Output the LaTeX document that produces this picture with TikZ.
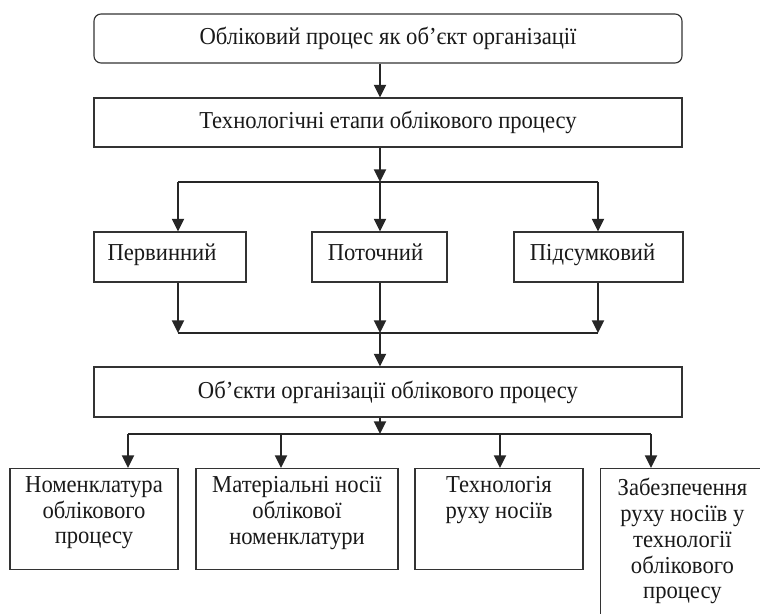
\documentclass[tikz,border=0pt]{standalone}
\usepackage{fontspec}
\setmainfont[FakeStretch=0.93]{Liberation Serif}
\usetikzlibrary{arrows.meta,positioning}

\begin{document}
\begin{tikzpicture}[
  font=\fontsize{17.3}{18.4}\selectfont, >={Triangle[length=9pt,width=8.5pt]},
  arr/.style={->, draw=black!85, line width=1.6pt},
  bus/.style={draw=black!85, line width=0.8pt},
  box/.style={draw=black!80, line width=0.8pt, minimum height=#1,
              inner sep=2pt, align=center, text=black!90},
  box/.default=1.25cm,
  stg/.style={box, text height=1.55ex, text depth=0.35ex},
  txt/.style={align=center, text=black!90, inner sep=0pt},
]

%% Frame of the picture
\useasboundingbox (0,0) rectangle (19,15.325);
\clip (0,0) rectangle (19,15.325);

%% ====================================================
%% Top: process and its stages
%% ====================================================
\node[box=1.225cm, rounded corners=5pt, minimum width=14.7cm] (proc) at (9.7,14.3625)
  {Обліковий процес як об’єкт організації};
\node[box=1.225cm, minimum width=14.7cm] (etapy) at (9.7,12.2625)
  {Технологічні етапи облікового процесу};

\coordinate (split) at (9.5,10.775);
\draw[arr] (proc.south -| split) -- (etapy.north -| split);
\draw[arr] (etapy.south -| split) -- (split);

%% Stage boxes
\node[stg, minimum width=3.8cm]   (perv) at (4.25,8.9)    {Первинний\hspace*{0.4cm}};
\node[stg, minimum width=3.375cm] (poto) at (9.4875,8.9)  {Поточний\hspace*{0.2cm}};
\node[stg, minimum width=4.225cm] (pids) at (14.9625,8.9) {Підсумковий\hspace*{0.3cm}};

%% Fan out / fan in
\coordinate (s1) at (4.45,10.775);
\coordinate (s3) at (14.95,10.775);
\coordinate (m1) at (4.45,7.0);
\coordinate (m2) at (9.5,7.0);
\coordinate (m3) at (14.95,7.0);
\draw[bus] (s1) -- (s3);
\draw[bus] (m1) -- (m3);
\draw[arr] (s1) -- (s1 |- perv.north);
\draw[arr] (split) -- (split |- poto.north);
\draw[arr] (s3) -- (s3 |- pids.north);
\draw[arr] (perv.south -| m1) -- (m1);
\draw[arr] (poto.south -| m2) -- (m2);
\draw[arr] (pids.south -| m3) -- (m3);

%% ====================================================
%% Bottom: objects of organisation
%% ====================================================
\node[box, minimum width=14.7cm] (objs) at (9.7,5.525)
  {Об’єкти організації облікового процесу};
\draw[arr] (m2) -- (m2 |- objs.north);

\coordinate (t)  at (9.5,4.475);
\coordinate (b1) at (3.2,4.475);
\coordinate (b2) at (7.025,4.475);
\coordinate (b3) at (12.5,4.475);
\coordinate (b4) at (16.275,4.475);
\draw[arr] (objs.south -| t) -- (t);
\draw[bus] (b1) -- (b4);

%% Leaf boxes (text sits at the top)
\node[box=2.525cm, minimum width=4.2cm,  anchor=north] (nom) at (2.35,3.625)   {};
\node[box=2.525cm, minimum width=5.05cm, anchor=north] (mat) at (7.425,3.625)  {};
\node[box=2.525cm, minimum width=4.2cm,  anchor=north] (teh) at (12.475,3.625) {};
\node[box=4cm, minimum width=5cm, anchor=north west]   (zab) at (15.0,3.625)   {};

\node[txt, below=0.2cm of nom.north] (nomT) {Номенклатура\\облікового\\процесу};
\node[txt, below=0.2cm of mat.north] (matT) {Матеріальні носії\\облікової\\номенклатури};
\node[txt, below=0.2cm of teh.north] (tehT) {Технологія\\руху носіїв};
\node[txt, anchor=north] (zabT) at (17.06,3.38)
  {Забезпечення\\руху носіїв у\\технології\\облікового\\процесу};

\foreach \b/\n in {b1/nom, b2/mat, b3/teh, b4/zab} {
  \draw[arr] (\b) -- (\b |- \n.north);
}

\end{tikzpicture}
\end{document}
